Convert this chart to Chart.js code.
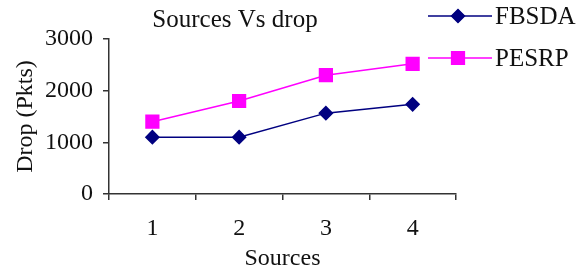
<!DOCTYPE html>
<html>
<head>
<meta charset="utf-8">
<script src="https://cdn.jsdelivr.net/npm/chart.js@4"></script>
<style>
  html, body { margin: 0; padding: 0; background: #fff; }
  #wrap { width: 585px; height: 269px; }
</style>
</head>
<body>
<div id="wrap"><canvas id="dropChart" width="585" height="269"></canvas></div>
<script>
const sources = ['1', '2', '3', '4'];
const fbsdaDrop = [1100, 1100, 1565, 1735];
const pesrpDrop = [1400, 1800, 2300, 2520];
const yTicks = [0, 1000, 2000, 3000];

const SERIF = "'Liberation Serif', 'Times New Roman', serif";

// Title and legend (line + marker) are drawn by hand to sit where the original has them
const extras = {
    id: 'extras',
    afterDraw(chart) {
        const ctx = chart.ctx;
        ctx.save();
        ctx.fillStyle = '#111';
        ctx.font = '25px ' + SERIF;
        ctx.textAlign = 'center';
        ctx.textBaseline = 'middle';
        ctx.fillText('Sources Vs drop', 235, 20);

        const rows = [16, 58];
        chart.data.datasets.forEach((ds, i) => {
            const y = rows[i];
            ctx.strokeStyle = ds.borderColor;
            ctx.lineWidth = ds.borderWidth;
            ctx.beginPath();
            ctx.moveTo(428, y);
            ctx.lineTo(492, y);
            ctx.stroke();
            Chart.helpers.drawPoint(ctx, {
                pointStyle: ds.pointStyle,
                radius: ds.pointRadius,
                borderWidth: 1
            }, 458, y);
            ctx.fillStyle = ds.pointBackgroundColor;
            ctx.fill();
            ctx.fillStyle = '#111';
            ctx.font = '25px ' + SERIF;
            ctx.textAlign = 'left';
            ctx.fillText(ds.label, 495, y + 1);
        });
        ctx.restore();
    }
};

new Chart(document.getElementById('dropChart'), {
    type: 'line',
    data: {
        labels: sources,
        datasets: [
            {
                label: 'FBSDA',
                data: fbsdaDrop,
                borderColor: '#000080',
                backgroundColor: '#000080',
                pointBackgroundColor: '#000080',
                pointBorderColor: '#000080',
                pointStyle: 'rectRot',
                pointRadius: 6.5,
                borderWidth: 1.5,
                tension: 0
            },
            {
                label: 'PESRP',
                data: pesrpDrop,
                borderColor: '#ff00ff',
                backgroundColor: '#ff00ff',
                pointBackgroundColor: '#ff00ff',
                pointBorderColor: '#ff00ff',
                pointStyle: 'rect',
                pointRadius: 9,
                borderWidth: 1.5,
                tension: 0
            }
        ]
    },
    options: {
        responsive: false,
        animation: false,
        layout: { padding: { left: 0, top: 39, right: 129, bottom: 0 } },
        plugins: {
            legend: { display: false },
            title: { display: false },
            tooltip: { enabled: false }
        },
        scales: {
            x: {
                offset: true,
                grid: { display: true, offset: true, drawOnChartArea: false, tickLength: 6, color: '#333', lineWidth: 1.5 },
                border: { color: '#333', width: 1.5 },
                ticks: { color: '#111', font: { family: SERIF, size: 24 }, padding: 14 },
                title: { display: true, text: 'Sources', color: '#111', font: { family: SERIF, size: 24 }, padding: { top: 0, bottom: -4 } },
                afterFit(scale) { scale.height = 75; }
            },
            y: {
                min: 0,
                max: 3000,
                afterBuildTicks(scale) { scale.ticks = yTicks.map(v => ({ value: v })); },
                grid: { display: true, drawOnChartArea: false, tickLength: 6, color: '#333', lineWidth: 1.5 },
                border: { color: '#333', width: 1.5 },
                ticks: { color: '#111', font: { family: SERIF, size: 24 }, padding: 10, callback: v => String(v) },
                title: { display: true, text: 'Drop (Pkts)', color: '#111', font: { family: SERIF, size: 24 }, padding: { top: 11, bottom: 0 } },
                afterFit(scale) { scale.width = 109; }
            }
        }
    },
    plugins: [extras]
});
</script>
</body>
</html>
